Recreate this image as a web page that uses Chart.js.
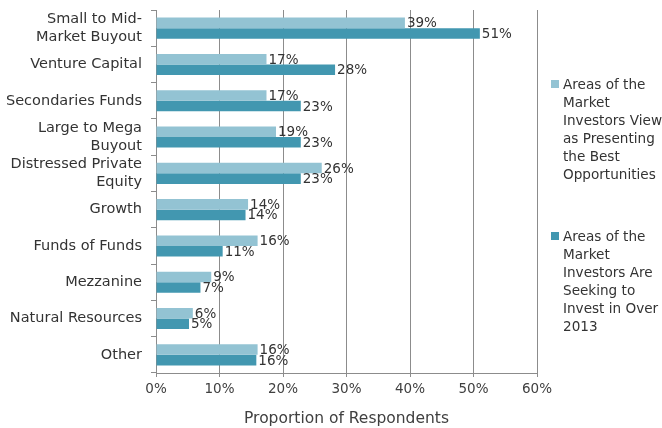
<!DOCTYPE html>
<html>
<head>
<meta charset="utf-8">
<script src="https://cdn.jsdelivr.net/npm/chart.js@4"></script>
<style>
  html, body { margin: 0; padding: 0; background: #fff; }
  #wrap { position: relative; width: 662px; height: 428px; }
  #legend { position: absolute; left: 551px; top: 75px; font-family: "DejaVu Sans", sans-serif; font-size: 13.6px; line-height: 18px; color: #333; white-space: nowrap; }
  .item { position: relative; padding-left: 12px; margin-bottom: 44px; }
  .sw { position: absolute; left: 0; top: 5px; width: 8px; height: 8px; }
</style>
</head>
<body>
<div id="wrap">
  <canvas id="c" width="662" height="428"></canvas>
  <div id="legend"></div>
</div>
<script>
const categories = [
  ["Small to Mid-", "Market Buyout"],
  "Venture Capital",
  "Secondaries Funds",
  ["Large to Mega", "Buyout"],
  ["Distressed Private", "Equity"],
  "Growth",
  "Funds of Funds",
  "Mezzanine",
  "Natural Resources",
  "Other"
];
const seriesNames = [
  ["Areas of the", "Market", "Investors View", "as Presenting", "the Best", "Opportunities"],
  ["Areas of the", "Market", "Investors Are", "Seeking to", "Invest in Over", "2013"]
];
const bestOpportunities = [39.2, 17.4, 17.4, 18.9, 26.1, 14.5, 16.0, 8.7, 5.8, 16.0];
const seekingToInvest   = [51.0, 28.2, 22.8, 22.8, 22.8, 14.1, 10.5, 7.0, 5.2, 15.8];
const bestLabels    = ["39%", "17%", "17%", "19%", "26%", "14%", "16%", "9%", "6%", "16%"];
const seekingLabels = ["51%", "28%", "23%", "23%", "23%", "14%", "11%", "7%", "5%", "16%"];
const xTicks = ["0%", "10%", "20%", "30%", "40%", "50%", "60%"];

const colors = ["#93C3D3", "#4297B0"];
const FONT = "DejaVu Sans";

const labelPlugin = {
  id: "barLabels",
  afterDatasetsDraw(chart) {
    const ctx = chart.ctx;
    const texts = [bestLabels, seekingLabels];
    ctx.save();
    ctx.font = "13.5px '" + FONT + "'";
    ctx.fillStyle = "#333";
    ctx.textAlign = "left";
    ctx.textBaseline = "middle";
    chart.data.datasets.forEach((ds, di) => {
      const meta = chart.getDatasetMeta(di);
      meta.data.forEach((bar, i) => {
        ctx.fillText(texts[di][i], bar.x + 2, bar.y + 1);
      });
    });
    ctx.restore();
  }
};

new Chart(document.getElementById("c"), {
  type: "bar",
  data: {
    labels: categories,
    datasets: [
      { label: seriesNames[0].join(" "), data: bestOpportunities, backgroundColor: colors[0], borderWidth: 0 },
      { label: seriesNames[1].join(" "), data: seekingToInvest, backgroundColor: colors[1], borderWidth: 0 }
    ]
  },
  options: {
    indexAxis: "y",
    responsive: false,
    animation: false,
    layout: { padding: { left: 4, right: 125, top: 10, bottom: 0 } },
    plugins: { legend: { display: false }, tooltip: { enabled: false } },
    datasets: { bar: { categoryPercentage: 0.58, barPercentage: 1.0 } },
    scales: {
      x: {
        min: 0, max: 60,
        ticks: {
          stepSize: 10,
          color: "#404040",
          font: { family: FONT, size: 13.5 },
          padding: 4,
          callback: (v, i) => xTicks[i]
        },
        grid: { color: "#8c8c8c", lineWidth: 1, tickLength: 4, drawTicks: true },
        border: { color: "#8c8c8c" },
        title: {
          display: true,
          text: "Proportion of Respondents",
          color: "#404040",
          font: { family: FONT, size: 15.5 },
          padding: { top: 4, bottom: 0 }
        },
        afterFit: (s) => { s.height = 55; }
      },
      y: {
        ticks: {
          color: "#333",
          font: { family: FONT, size: 14.5 },
          padding: 9,
          autoSkip: false
        },
        grid: { display: true, drawOnChartArea: false, color: "#8c8c8c", tickLength: 5, offset: true },
        border: { color: "#8c8c8c" },
        afterFit: (s) => { s.width = 152; s.paddingTop = 0; s.paddingBottom = 0; }
      }
    }
  },
  plugins: [labelPlugin]
});

const legend = document.getElementById("legend");
seriesNames.forEach((lines, i) => {
  const item = document.createElement("div");
  item.className = "item";
  const sw = document.createElement("span");
  sw.className = "sw";
  sw.style.background = colors[i];
  item.appendChild(sw);
  const txt = document.createElement("div");
  txt.innerHTML = lines.join("<br>");
  item.appendChild(txt);
  legend.appendChild(item);
});
</script>
</body>
</html>
